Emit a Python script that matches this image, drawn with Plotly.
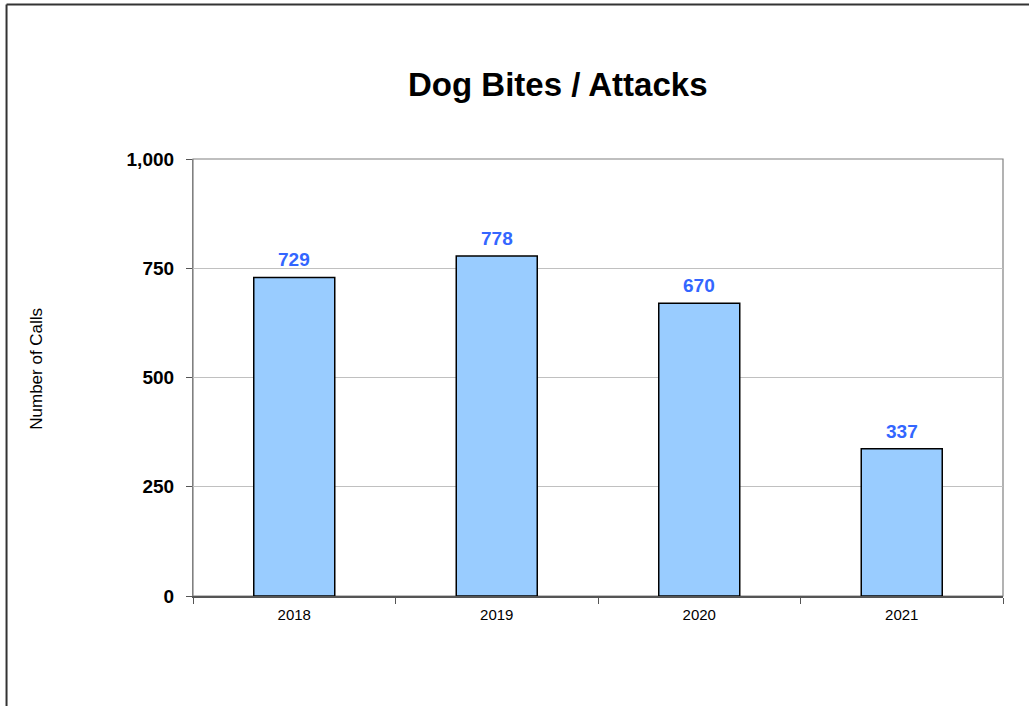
import plotly.graph_objects as go

years = ["2018", "2019", "2020", "2021"]
calls = [729, 778, 670, 337]
y_ticks = [0, 250, 500, 750, 1000]
y_tick_labels = ["0", "250", "500", "750", "1,000"]

FONT = "Liberation Sans, Arial, sans-serif"

fig = go.Figure()
fig.add_trace(go.Bar(
    x=years, y=calls, width=0.4,
    marker=dict(color="#99CCFF", line=dict(color="#000000", width=1.5)),
    hoverinfo="x+y", showlegend=False,
))

for i, v in enumerate(calls):
    fig.add_annotation(x=i, y=v, text=f"<b>{v}</b>", showarrow=False,
                       yanchor="bottom", yshift=5,
                       font=dict(family=FONT, size=19, color="#3366FF"))

fig.add_annotation(xref="paper", yref="paper", x=0.4506, y=1.1716, text="<b>Dog Bites / Attacks</b>",
                   showarrow=False, xanchor="center", yanchor="middle",
                   font=dict(family=FONT, size=33, color="#000000"))
fig.add_annotation(xref="paper", yref="paper", x=-0.1926, y=0.52, text="Number of Calls",
                   textangle=-90, showarrow=False, xanchor="center", yanchor="middle",
                   font=dict(family=FONT, size=17, color="#000000"))

# outer frame (left & top)
fig.add_shape(type="line", xref="paper", yref="paper", x0=-0.2302, x1=-0.2302, y0=-0.3, y1=1.3535,
              line=dict(color="#333333", width=2))
fig.add_shape(type="line", xref="paper", yref="paper", x0=-0.2302, x1=1.1, y0=1.3535, y1=1.3535,
              line=dict(color="#333333", width=2))
# plot area border
fig.add_shape(type="rect", xref="paper", yref="paper", x0=0, x1=1, y0=0, y1=1,
              line=dict(color="#808080", width=1.2), layer="below")

fig.update_layout(
    width=1029, height=706,
    margin=dict(l=193, r=26, t=159, b=110),
    paper_bgcolor="white", plot_bgcolor="white",
    bargap=0.6,
    xaxis=dict(type="category", tickson="boundaries", ticks="outside", ticklen=6,
               tickcolor="#555555", showline=True, linecolor="#555555", linewidth=1.5,
               showgrid=False, tickfont=dict(family=FONT, size=15, color="#000000"),
               ticklabelstandoff=4, range=[-0.5, 3.5]),
    yaxis=dict(range=[0, 1000], tickvals=y_ticks, ticktext=[f"<b>{t}</b>" for t in y_tick_labels],
               ticks="outside", ticklen=6, tickcolor="#555555", showline=True,
               linecolor="#808080", linewidth=1.2, showgrid=True, gridcolor="#C0C0C0",
               gridwidth=1, zeroline=False, ticklabelstandoff=8,
               tickfont=dict(family=FONT, size=19, color="#000000")),
)

fig.write_html("out.html")
